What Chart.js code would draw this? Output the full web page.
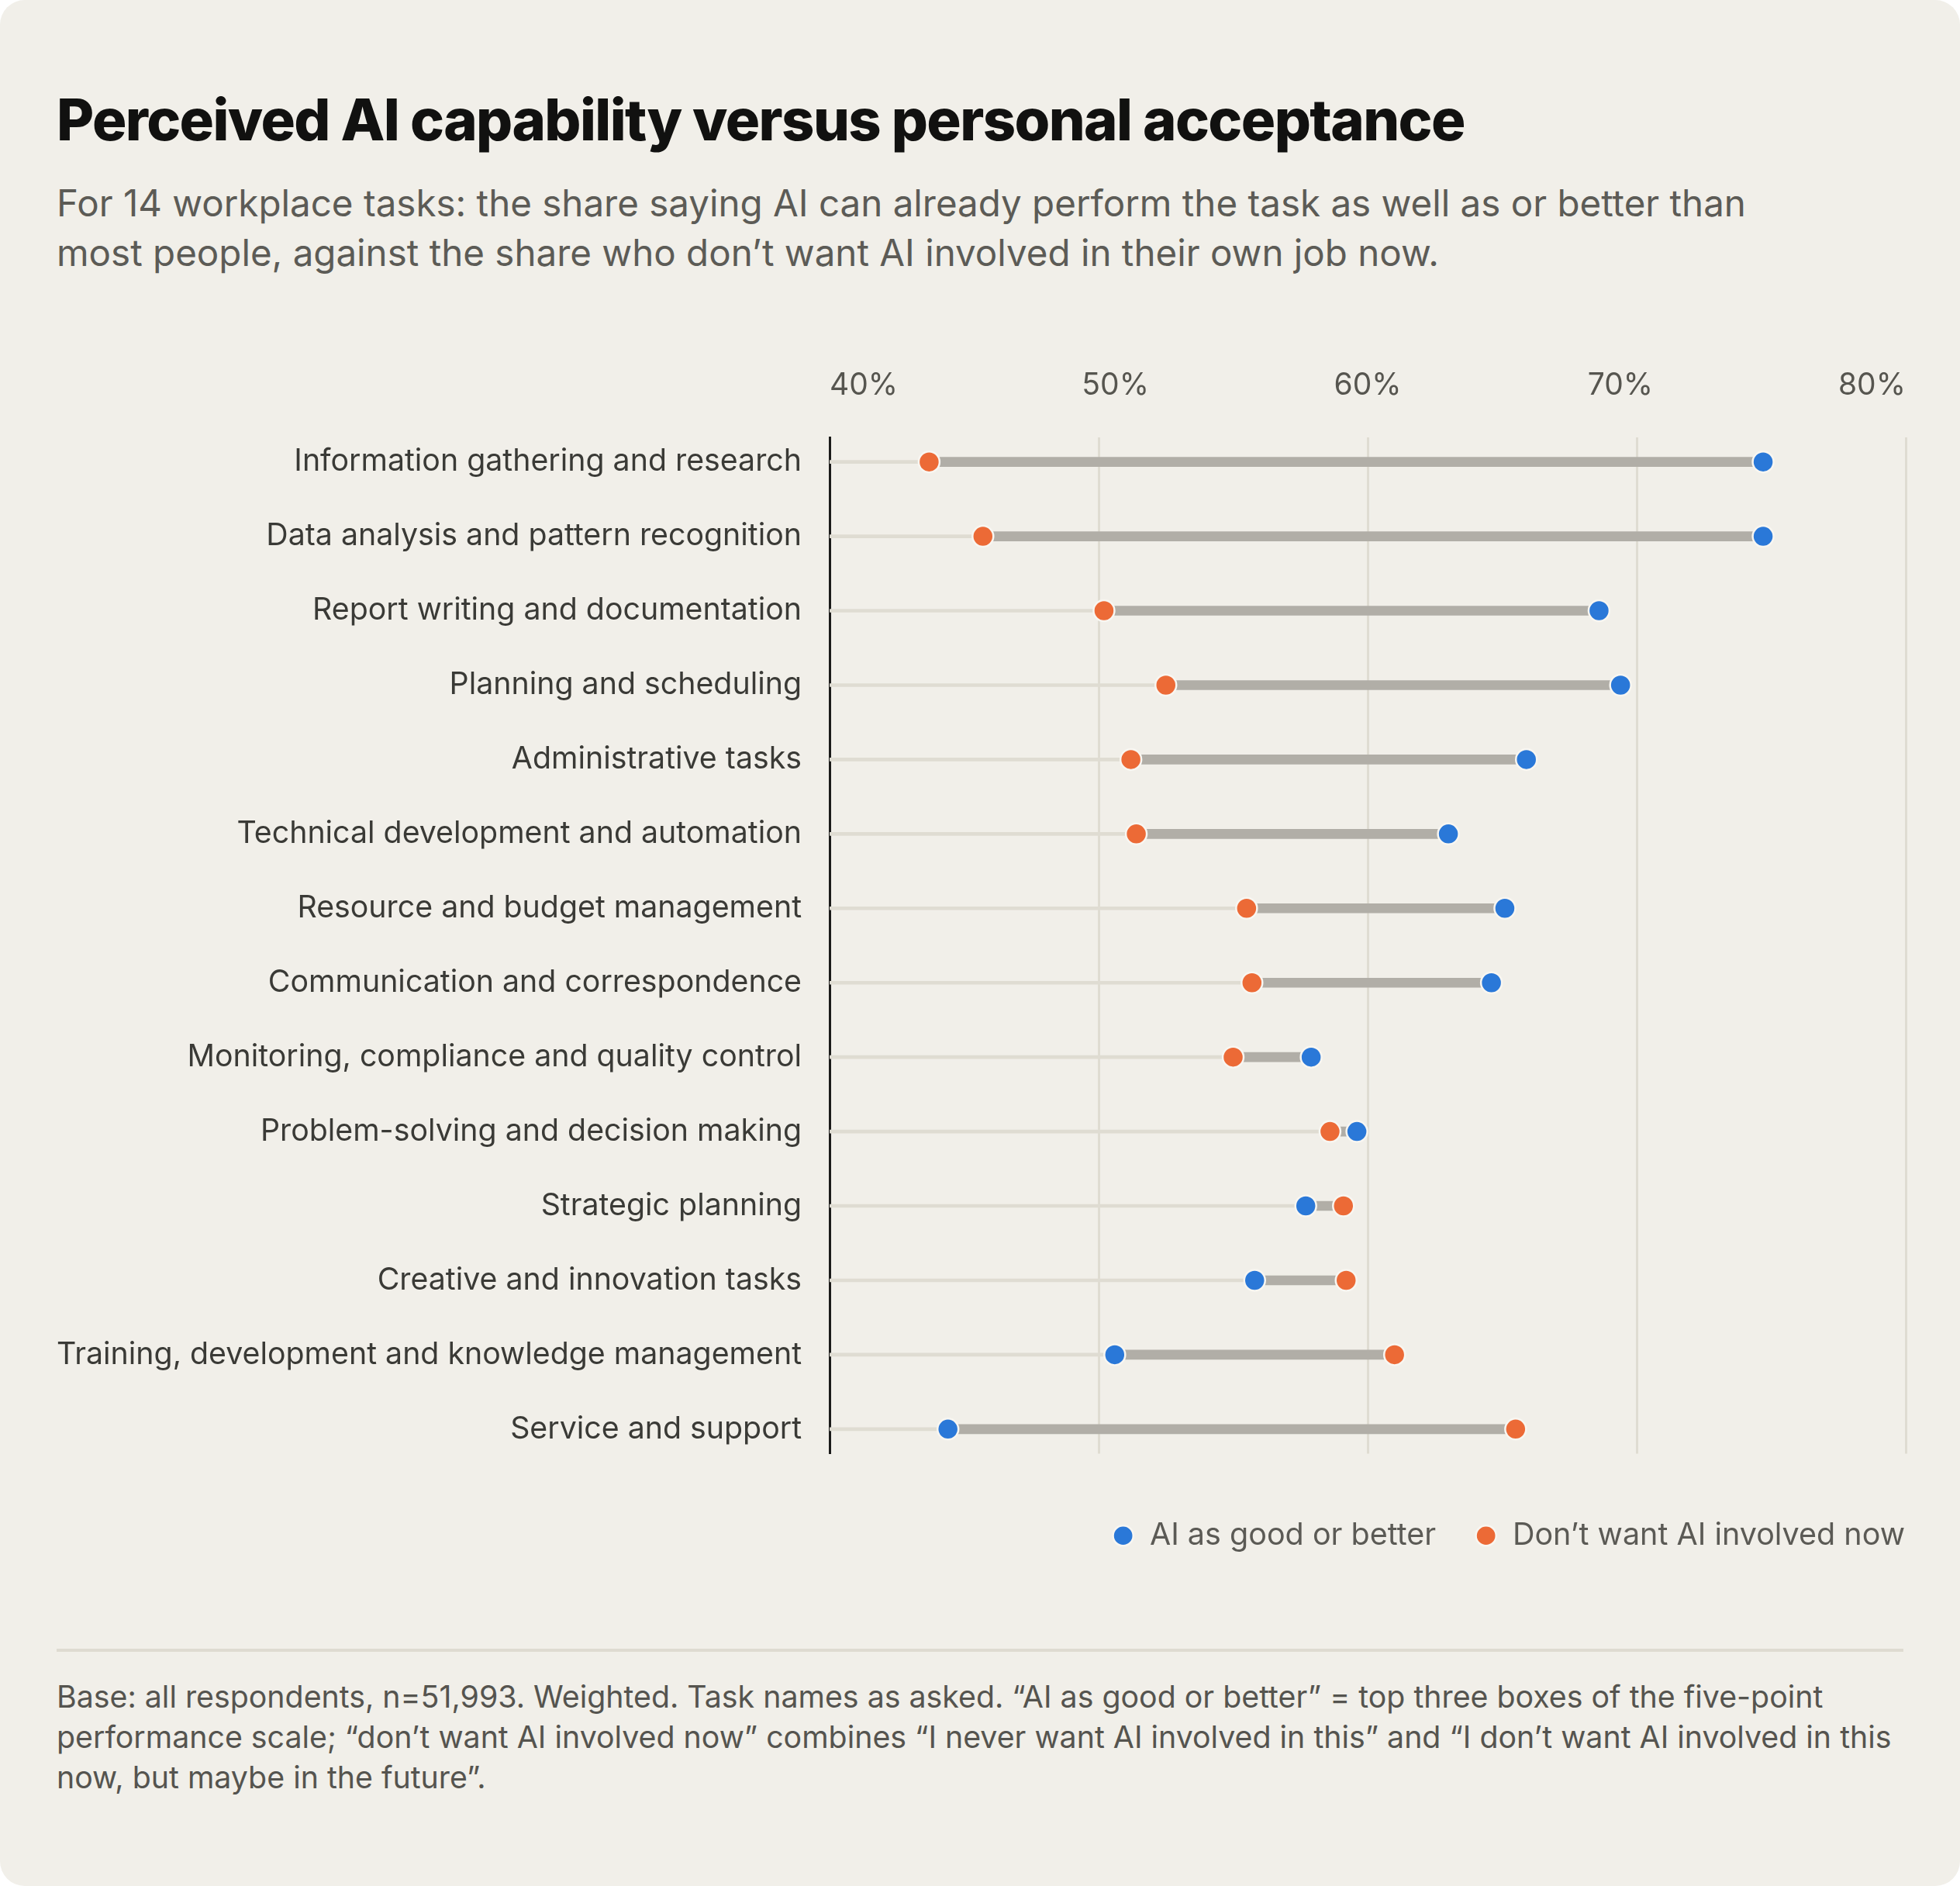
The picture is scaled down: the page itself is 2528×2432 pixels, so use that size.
<!DOCTYPE html>
<html>
<head>
<meta charset="utf-8">
<script src="https://cdn.jsdelivr.net/npm/chart.js@4.4.1/dist/chart.umd.min.js"></script>
<style>
  html, body { margin: 0; padding: 0; background: #ffffff; }
  body { width: 2528px; height: 2432px; position: relative; overflow: hidden; font-family: Inter, "Noto Sans", sans-serif; }
  .card { position: absolute; left: 0; top: 0; width: 2528px; height: 2432px; background: #f1efe9; border-radius: 32px; }
  h1 { position: absolute; left: 73px; top: 117px; margin: 0; font-size: 74px; line-height: 74px; font-weight: 800; color: #111110; letter-spacing: -1.6px; white-space: nowrap; }
  .sub { position: absolute; left: 73px; top: 230px; margin: 0; font-size: 47.5px; line-height: 64px; color: #5c5b56; white-space: nowrap; }
  #dumbbellChart { position: absolute; left: 0; top: 400px; }
  .rule { position: absolute; left: 73px; top: 2126px; width: 2382px; height: 4px; background: #dedbd1; }
  .note { position: absolute; left: 73px; top: 2162px; margin: 0; font-size: 39.3px; line-height: 52px; color: #55544f; white-space: nowrap; }
</style>
</head>
<body>
<div class="card"></div>
<h1>Perceived AI capability versus personal acceptance</h1>
<p class="sub">For 14 workplace tasks: the share saying AI can already perform the task as well as or better than<br>most people, against the share who don’t want AI involved in their own job now.</p>
<canvas id="dumbbellChart" width="2528" height="1660"></canvas>
<div class="rule"></div>
<p class="note">Base: all respondents, n=51,993. Weighted. Task names as asked. “AI as good or better” = top three boxes of the five-point<br>performance scale; “don’t want AI involved now” combines “I never want AI involved in this” and “I don’t want AI involved in this<br>now, but maybe in the future”.</p>
<script>
// data
var tasks = [
    'Information gathering and research',
    'Data analysis and pattern recognition',
    'Report writing and documentation',
    'Planning and scheduling',
    'Administrative tasks',
    'Technical development and automation',
    'Resource and budget management',
    'Communication and correspondence',
    'Monitoring, compliance and quality control',
    'Problem-solving and decision making',
    'Strategic planning',
    'Creative and innovation tasks',
    'Training, development and knowledge management',
    'Service and support'
];
var aiAsGood = [74.7, 74.7, 68.6, 69.4, 65.9, 63.0, 65.1, 64.6, 57.9, 59.6, 57.7, 55.8, 50.6, 44.4];
var dontWantNow = [43.7, 45.7, 50.2, 52.5, 51.2, 51.4, 55.5, 55.7, 55.0, 58.6, 59.1, 59.2, 61.0, 65.5];
var xTickLabels = ['40%', '50%', '60%', '70%', '80%'];

var font = 'Inter';
var blue = '#2a78d8';
var orange = '#ec6a36';

// tick labels on top, first one left aligned, last one right aligned
var topTicks = {
    id: 'topTicks',
    afterDraw: function (chart) {
        var ctx = chart.ctx;
        var x = chart.scales.x;
        ctx.save();
        ctx.font = '400 39px ' + font;
        ctx.fillStyle = '#56554f';
        ctx.textBaseline = 'middle';
        ctx.textAlign = 'left';
        x.ticks.forEach(function (t, i) {
            var label = xTickLabels[i];
            var w = ctx.measureText(label).width;
            var f = i / (x.ticks.length - 1);
            ctx.fillText(label, x.getPixelForValue(t.value) - f * w, chart.chartArea.top - 67);
        });
        ctx.restore();
    }
};

// move the legend to sit under the plot, flush right
var legendNudge = {
    id: 'legendNudge',
    afterLayout: function (chart) {
        var l = chart.legend;
        l.top += 36; l.bottom += 36;
        l.left += 49; l.right += 49;
    }
};

var chart = new Chart(document.getElementById('dumbbellChart').getContext('2d'), {
    type: 'scatter',
    data: {
        datasets: [{
            label: 'AI as good or better',
            data: aiAsGood.map(function (v, i) { return {x: v, y: i}; }),
            backgroundColor: blue,
            borderColor: '#f8f6f1',
            borderWidth: 2.5,
            pointRadius: 13.5,
            pointHoverRadius: 13.5
        }, {
            label: 'Don’t want AI involved now',
            data: dontWantNow.map(function (v, i) { return {x: v, y: i}; }),
            backgroundColor: orange,
            borderColor: '#f8f6f1',
            borderWidth: 2.5,
            pointRadius: 13.5,
            pointHoverRadius: 13.5
        }, {
            type: 'bar',
            label: 'gap',
            indexAxis: 'y',
            grouped: false,
            barThickness: 12,
            backgroundColor: '#b1aea7',
            data: aiAsGood.map(function (v, i) {
                return {x: [Math.min(v, dontWantNow[i]), Math.max(v, dontWantNow[i])], y: i};
            })
        }, {
            type: 'bar',
            label: 'track',
            indexAxis: 'y',
            grouped: false,
            barThickness: 4,
            backgroundColor: '#dfdcd2',
            data: aiAsGood.map(function (v, i) {
                return {x: [40, Math.min(v, dontWantNow[i])], y: i};
            })
        }]
    },
    options: {
        responsive: false,
        devicePixelRatio: 1,
        animation: false,
        layout: {padding: {top: 164, right: 70, bottom: 86, left: 0}},
        scales: {
            x: {
                type: 'linear',
                position: 'top',
                offset: false,
                min: 40,
                max: 80,
                ticks: {stepSize: 10, display: false},
                grid: {
                    offset: false,
                    drawTicks: false,
                    lineWidth: 3,
                    color: function (c) { return c.tick && c.tick.value === 40 ? 'rgba(0,0,0,0)' : '#dfdcd2'; }
                },
                border: {display: false}
            },
            y: {
                type: 'linear',
                reverse: true,
                offset: false,
                min: -0.33,
                max: 13.33,
                afterBuildTicks: function (s) { s.ticks = tasks.map(function (t, i) { return {value: i}; }); },
                afterFit: function (s) { s.width = 1070; },
                ticks: {
                    autoSkip: false,
                    padding: 36,
                    color: '#3a3a36',
                    font: {family: font, size: 39.3},
                    callback: function (v) { return tasks[v]; }
                },
                grid: {display: false, drawTicks: false, offset: false},
                border: {display: true, color: '#1b1b1a', width: 3}
            }
        },
        plugins: {
            tooltip: {enabled: false},
            legend: {
                position: 'bottom',
                align: 'end',
                labels: {
                    usePointStyle: true,
                    pointStyle: 'circle',
                    boxHeight: 18.5,
                    boxWidth: 29,
                    padding: 50,
                    color: '#5b5a55',
                    font: {family: font, size: 39.5},
                    filter: function (item) { return item.datasetIndex < 2; }
                }
            }
        }
    },
    plugins: [topTicks, legendNudge]
});
</script>
</body>
</html>
